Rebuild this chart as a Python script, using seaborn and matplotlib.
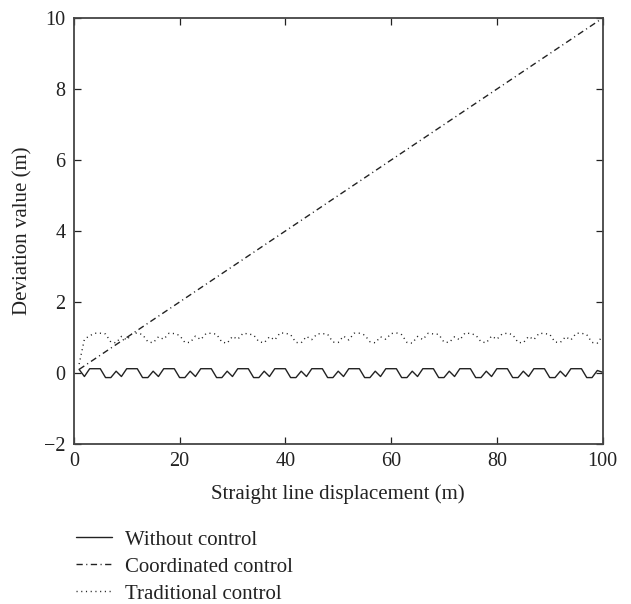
import matplotlib
matplotlib.use('Agg')
import matplotlib.pyplot as plt
import seaborn as sns

# data
x_pos = list(range(1, 101))

without_control = [
    0.10, -0.10,
    0.12, 0.12, 0.12, -0.13, -0.13, 0.05, -0.10,
    0.12, 0.12, 0.12, -0.13, -0.13, 0.05, -0.10,
    0.12, 0.12, 0.12, -0.13, -0.13, 0.05, -0.10,
    0.12, 0.12, 0.12, -0.13, -0.13, 0.05, -0.10,
    0.12, 0.12, 0.12, -0.13, -0.13, 0.05, -0.10,
    0.12, 0.12, 0.12, -0.13, -0.13, 0.05, -0.10,
    0.12, 0.12, 0.12, -0.13, -0.13, 0.05, -0.10,
    0.12, 0.12, 0.12, -0.13, -0.13, 0.05, -0.10,
    0.12, 0.12, 0.12, -0.13, -0.13, 0.05, -0.10,
    0.12, 0.12, 0.12, -0.13, -0.13, 0.05, -0.10,
    0.12, 0.12, 0.12, -0.13, -0.13, 0.05, -0.10,
    0.12, 0.12, 0.12, -0.13, -0.13, 0.05, -0.10,
    0.12, 0.12, 0.12, -0.13, -0.13, 0.05, -0.10,
    0.12, 0.12, 0.12, -0.13, -0.13, 0.07, 0.02,
]

traditional_control = [
    0.25, 0.95, 1.05,
    1.12, 1.12, 1.10, 0.87, 0.85, 1.03, 0.93,
    1.10, 1.13, 1.08, 0.88, 0.85, 1.02, 0.95,
    1.12, 1.11, 1.06, 0.86, 0.86, 1.04, 0.94,
    1.11, 1.12, 1.09, 0.87, 0.84, 1.03, 0.95,
    1.12, 1.10, 1.07, 0.88, 0.85, 1.02, 0.93,
    1.13, 1.12, 1.08, 0.86, 0.85, 1.03, 0.94,
    1.10, 1.11, 1.09, 0.87, 0.86, 1.04, 0.93,
    1.12, 1.12, 1.07, 0.88, 0.85, 1.02, 0.95,
    1.11, 1.13, 1.08, 0.86, 0.84, 1.03, 0.94,
    1.12, 1.10, 1.09, 0.87, 0.86, 1.02, 0.93,
    1.13, 1.11, 1.07, 0.88, 0.85, 1.04, 0.95,
    1.10, 1.12, 1.08, 0.86, 0.85, 1.03, 0.94,
    1.12, 1.11, 1.09, 0.87, 0.86, 1.02, 0.93,
    1.12, 1.12, 1.08, 0.86, 0.84, 1.05,
]

coord_x = [1, 100]
coordinated_control = [0.1, 10.0]

labels = ['Without control', 'Coordinated control', 'Traditional control']

sns.set_style('ticks')
plt.rcParams['font.family'] = ['Liberation Serif', 'DejaVu Serif']

ink = '#222222'
fig = plt.figure(figsize=(6.31, 6.04), dpi=100)
ax = fig.add_axes([0.117, 0.265, 0.838, 0.705])

sns.lineplot(x=x_pos, y=without_control, ax=ax, color=ink, linewidth=1.0,
             label=labels[0], legend=False)
l2 = sns.lineplot(x=coord_x, y=coordinated_control, ax=ax, color=ink, linewidth=1.0,
                  label=labels[1], legend=False).lines[-1]
l2.set_dashes((4.5, 2.5, 0.8, 2.5))
l3 = sns.lineplot(x=x_pos, y=traditional_control, ax=ax, color=ink, linewidth=1.0,
                  label=labels[2], legend=False).lines[-1]
l3.set_dashes((0.8, 2.6))

ax.set_xlim(0, 100)
ax.set_ylim(-2, 10)
ax.set_xticks([0, 20, 40, 60, 80, 100])
ax.set_yticks([-2, 0, 2, 4, 6, 8, 10])
ax.tick_params(direction='in', length=5, width=0.9, colors=ink, labelsize=14.5,
               top=True, right=True, pad=6)
for s in ax.spines.values():
    s.set_color('#444444')
    s.set_linewidth(1.3)

ax.set_xlabel('Straight line displacement (m)', fontsize=15, color=ink)
ax.set_ylabel('Deviation value (m)', fontsize=15, color=ink)
ax.xaxis.set_label_coords(0.5, -0.094)
ax.yaxis.set_label_coords(-0.078, 0.5)

handles = ax.get_lines()
fig.legend(handles, labels, loc='upper left', bbox_to_anchor=(76 / 631, 1 - 530 / 604),
           frameon=False, fontsize=15, handlelength=1.75, handletextpad=0.62,
           labelspacing=0.36, borderpad=0, borderaxespad=0, labelcolor=ink)

plt.savefig('out.png', dpi=100)
plt.close()
